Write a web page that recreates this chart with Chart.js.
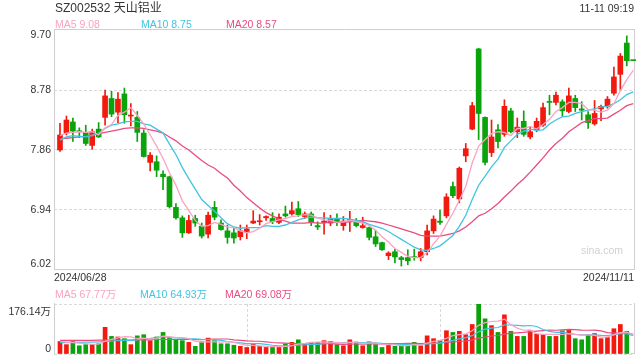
<!DOCTYPE html>
<html lang="zh-CN">
<head>
  <meta charset="UTF-8" />
  <title>SZ002532 天山铝业 日K</title>
  <script src="https://cdn.jsdelivr.net/npm/chart.js"></script>
  <style>
    body {
      margin: 0;
      background: #fff;
      font-family: "Liberation Sans", Arial, "Noto Sans CJK SC", sans-serif;
    }
    .wrap { position: relative; width: 640px; height: 360px; overflow: hidden; }
    canvas { position: absolute; left: 0; }
    #kline { top: 0; }
    #vol { top: 280px; }
    .txt { position: absolute; font-size: 10.5px; line-height: 12px; white-space: nowrap; color: #333; }
    .title { left: 55px; top: 1px; font-size: 12px; line-height: 14px; }
    .time { right: 6px; top: 2px; }
    .ma5 { color: #f9a3c3; }
    .ma10 { color: #40c4e2; }
    .ma20 { color: #e94c80; }
    .mark { right: 17px; top: 244px; color: #d0d0d0; }
  </style>
</head>
<body>
<div class="wrap">
  <canvas id="kline" width="640" height="290"></canvas>
  <canvas id="vol" width="640" height="80"></canvas>

  <div class="txt title">SZ002532 天山铝业</div>
  <div class="txt time">11-11 09:19</div>
  <div class="txt ma5" style="left:55px;top:18px">MA5 9.08</div>
  <div class="txt ma10" style="left:141px;top:18px">MA10 8.75</div>
  <div class="txt ma20" style="left:226px;top:18px">MA20 8.57</div>
  <div class="txt ma5" style="left:55px;top:288px">MA5 67.77万</div>
  <div class="txt ma10" style="left:140px;top:288px">MA10 64.93万</div>
  <div class="txt ma20" style="left:225px;top:288px">MA20 69.08万</div>
  <div class="txt mark">sina.com</div>
</div>

<script>
  // trading days 2024/06/28 - 2024/11/11
  const dates = [
    '06/28',
    '07/01','07/02','07/03','07/04','07/05','07/08','07/09','07/10','07/11','07/12',
    '07/15','07/16','07/17','07/18','07/19','07/22','07/23','07/24','07/25','07/26',
    '07/29','07/30','07/31',
    '08/01','08/02','08/05','08/06','08/07','08/08','08/09','08/12','08/13','08/14',
    '08/15','08/16','08/19','08/20','08/21','08/22','08/23','08/26','08/27','08/28',
    '08/29','08/30',
    '09/02','09/03','09/04','09/05','09/06','09/09','09/10','09/11','09/12','09/13',
    '09/18','09/19','09/20','09/23','09/24','09/25','09/26','09/27','09/30',
    '10/08','10/09','10/10','10/11','10/14','10/15','10/16','10/17','10/18','10/21',
    '10/22','10/23','10/24','10/25','10/28','10/29','10/30','10/31',
    '11/01','11/04','11/05','11/06','11/07','11/08','11/11'
  ];
  const year = '2024';

  const open = [
    7.86,8.12,8.29,8.15,8.13,7.93,8.18,8.36,8.65,8.44,
    8.72,8.38,8.36,8.12,7.67,7.68,7.49,7.45,6.98,6.82,
    6.59,6.81,6.69,6.57,6.98,6.74,6.62,6.59,6.53,6.61,
    6.74,6.76,6.82,6.81,6.75,6.88,6.88,6.96,6.84,6.88,
    6.70,6.75,6.74,6.80,6.70,6.78,6.76,6.67,6.67,6.53,
    6.44,6.24,6.30,6.21,6.21,6.22,6.21,6.30,6.62,6.77,
    6.85,7.30,7.11,7.77,8.18,9.41,8.36,7.82,8.17,8.10,
    8.46,8.14,8.30,8.06,8.17,8.24,8.60,8.59,8.60,8.45,
    8.65,8.49,8.40,8.26,8.49,8.53,8.73,9.02,9.50,9.23
  ];
  const high = [
    8.27,8.38,8.35,8.20,8.24,8.18,8.28,8.78,8.76,8.74,
    8.81,8.57,8.45,8.17,7.82,7.77,7.54,7.46,7.04,6.85,
    6.86,6.86,6.74,6.91,7.07,6.79,6.71,6.66,6.71,6.71,
    6.93,6.87,6.85,6.90,6.88,7.00,7.06,7.07,6.91,6.91,
    6.76,6.90,6.86,6.88,6.84,6.92,6.81,6.83,6.68,6.63,
    6.45,6.30,6.34,6.23,6.33,6.34,6.35,6.71,6.85,6.94,
    7.19,7.37,7.60,7.96,8.59,9.42,8.37,8.32,8.25,8.63,
    8.50,8.35,8.46,8.22,8.35,8.58,8.70,8.75,8.63,8.81,
    8.70,8.60,8.45,8.62,8.55,8.68,9.13,9.34,9.61,9.23
  ];
  const low = [
    7.84,8.09,7.99,8.05,7.93,7.87,8.05,8.24,8.37,8.28,
    8.27,8.23,7.99,7.75,7.54,7.45,7.25,6.97,6.80,6.52,
    6.58,6.69,6.51,6.51,6.79,6.63,6.43,6.43,6.48,6.50,
    6.73,6.71,6.78,6.73,6.73,6.83,6.86,6.84,6.81,6.70,
    6.64,6.57,6.70,6.70,6.63,6.61,6.68,6.66,6.48,6.38,
    6.32,6.18,6.13,6.08,6.10,6.17,6.16,6.25,6.58,6.72,
    6.82,7.13,7.05,7.68,8.17,8.02,7.63,7.76,7.89,8.07,
    8.12,8.05,8.07,8.03,8.14,8.22,8.40,8.55,8.38,8.43,
    8.45,8.32,8.19,8.24,8.31,8.50,8.70,8.78,9.15,9.23
  ];
  const close = [
    8.09,8.32,8.15,8.14,7.96,8.14,8.06,8.69,8.41,8.64,
    8.40,8.39,8.13,7.76,7.78,7.55,7.45,6.99,6.82,6.59,
    6.78,6.74,6.54,6.86,6.83,6.64,6.52,6.51,6.62,6.65,
    6.77,6.77,6.84,6.76,6.83,6.85,6.93,6.87,6.88,6.75,
    6.68,6.77,6.80,6.76,6.77,6.79,6.70,6.70,6.52,6.42,
    6.33,6.28,6.22,6.18,6.16,6.21,6.30,6.62,6.80,6.75,
    7.14,7.16,7.58,7.88,8.54,8.42,7.67,8.06,7.99,8.53,
    8.14,8.21,8.10,8.14,8.30,8.51,8.59,8.70,8.46,8.69,
    8.51,8.47,8.28,8.42,8.53,8.64,8.98,9.30,9.23,9.23
  ];

  const ma5 = [
    8.08,8.12,8.13,8.14,8.13,8.14,8.09,8.20,8.25,8.39,
    8.44,8.51,8.39,8.26,8.09,7.92,7.73,7.51,7.32,7.08,
    6.93,6.78,6.69,6.70,6.75,6.72,6.68,6.67,6.62,6.59,
    6.61,6.66,6.73,6.76,6.79,6.81,6.84,6.85,6.87,6.86,
    6.82,6.79,6.78,6.75,6.76,6.78,6.76,6.74,6.70,6.63,
    6.53,6.45,6.35,6.29,6.23,6.21,6.21,6.29,6.42,6.54,
    6.72,6.89,7.09,7.30,7.66,7.92,8.02,8.11,8.14,8.13,
    8.08,8.19,8.19,8.22,8.18,8.25,8.33,8.45,8.51,8.59,
    8.59,8.57,8.48,8.47,8.44,8.47,8.57,8.77,8.94,9.08
  ];
  const ma10 = [
    8.01,8.06,8.08,8.07,8.06,8.08,8.12,8.19,8.24,8.26,
    8.29,8.30,8.30,8.26,8.24,8.18,8.12,7.95,7.79,7.59,
    7.42,7.26,7.10,7.01,6.92,6.82,6.73,6.68,6.66,6.67,
    6.67,6.67,6.70,6.69,6.69,6.71,6.75,6.79,6.82,6.83,
    6.82,6.82,6.81,6.81,6.81,6.80,6.78,6.76,6.72,6.69,
    6.66,6.61,6.55,6.49,6.43,6.37,6.33,6.32,6.35,6.39,
    6.47,6.55,6.69,6.86,7.10,7.32,7.46,7.60,7.72,7.90,
    8.00,8.10,8.15,8.18,8.16,8.17,8.26,8.32,8.37,8.38,
    8.42,8.45,8.47,8.49,8.52,8.53,8.57,8.63,8.71,8.75
  ];
  const ma20 = [
    8.03,8.04,8.05,8.06,8.07,8.09,8.11,8.13,8.15,8.17,
    8.19,8.20,8.20,8.19,8.17,8.15,8.12,8.06,8.00,7.92,
    7.86,7.78,7.70,7.63,7.58,7.50,7.43,7.32,7.23,7.13,
    7.05,6.97,6.90,6.85,6.80,6.77,6.74,6.74,6.74,6.75,
    6.74,6.74,6.76,6.75,6.75,6.76,6.77,6.78,6.77,6.76,
    6.74,6.71,6.68,6.65,6.62,6.59,6.55,6.54,6.54,6.54,
    6.56,6.58,6.62,6.68,6.76,6.85,6.89,6.96,7.04,7.14,
    7.23,7.33,7.42,7.52,7.63,7.74,7.86,7.96,8.04,8.14,
    8.21,8.28,8.31,8.34,8.34,8.35,8.41,8.47,8.54,8.57
  ];

  // volume, 万手
  const vol = [
    44,33,44,29,33,33,36,94,62,60,
    54,33,64,68,47,60,76,56,50,47,
    41,27,43,56,47,36,36,31,27,23,
    36,27,23,23,23,36,41,50,36,41,
    41,47,44,33,29,50,42,29,43,33,
    23,36,27,27,33,41,29,64,54,48,
    82,76,80,68,104,176.14,124,100,76,138,
    80,62,62,82,70,68,62,62,82,85,
    54,50,68,72,54,58,89,104,80,0
  ];
  const volMa5 = [
    45,42,40,38,36.6,34.4,35,45,51.6,57,
    61.2,60.6,54.6,55.8,53.2,54.4,63,61.4,57.8,57.8,
    54,44.2,41.6,42.8,42.8,41.8,43.6,41.2,35.4,30.6,
    30.6,28.8,27.2,26.4,26.4,26.4,29.2,34.6,37.2,40.8,
    41.8,43,41.8,41.2,38.8,40.6,39.6,36.6,38.6,39.4,
    34,32.8,32.4,29.2,29.2,32.8,31.4,38.8,44.2,47.2,
    55.4,64.8,68,70.8,82,100.8,110.4,114.4,116,122.8,
    103.6,91.2,83.6,84.8,71.2,68.8,68.8,68.8,68.8,71.8,
    69,66.6,67.8,65.8,59.6,60.4,68.2,75.4,77,67.77
  ];
  const volMa10 = [
    40,40,41,41,42,42,43,44,45,46.8,
    47.8,47.8,49.8,53.7,55.1,57.8,61.8,58,56.8,55.5,
    54.2,53.6,51.5,50.3,50.3,47.9,43.9,41.4,39.1,36.7,
    36.2,36.2,34.2,30.9,28.5,28.5,29,30.9,31.8,33.6,
    34.1,36.1,38.2,39.2,39.8,41.2,41.3,39.2,39.9,39.1,
    37.3,36.2,34.5,33.9,34.3,33.4,32.1,35.6,36.7,38.2,
    44.1,48.1,53.4,57.5,64.6,78.1,87.6,91.2,93.4,102.4,
    102.2,100.8,99,100.4,97,86.2,80,76.2,76.8,71.5,
    68.9,67.7,68.3,67.3,65.7,64.7,67.4,71.6,71.4,64.93
  ];
  const volMa20 = [
    48,48,48,48,48,48,49,49,49,49,
    49,49,50,50,50,51,51,51,51,51.2,
    51,50.7,50.7,52,52.7,52.9,52.9,49.7,48,46.1,
    45.2,44.9,42.9,40.6,39.4,38.2,36.5,36.2,35.5,35.2,
    35.2,36.2,36.2,35.1,34.2,34.9,35.2,35.1,35.9,36.4,
    35.7,36.2,36.4,36.6,37.1,37.3,36.7,37.4,38.3,38.7,
    40.7,42.2,44,45.7,49.5,55.8,59.9,63.4,65.1,70.3,
    73.2,74.5,76.2,79,80.8,82.2,83.8,83.7,85.1,87,
    85.6,84.3,83.7,83.9,81.4,75.5,73.7,73.9,74.1,69.08
  ];

  const priceTicks = [6.02, 6.94, 7.86, 8.78, 9.70];
  const priceTickLabels = ['6.02', '6.94', '7.86', '8.78', '9.70'];
  const volTicks = [0, 176.14];
  const volTickLabels = ['0', '176.14万'];

  const RED = '#f2190f';
  const GREEN = '#0aa30b';
  const C_MA5 = '#f9a3c3', C_MA10 = '#40c4e2', C_MA20 = '#e94c80';
  const GRID = '#d9d9d9';
  const FRAME = '#cfcfcf';
  const FONT = '"Liberation Sans", Arial, "Noto Sans CJK SC", sans-serif';
  const X_MIN = -0.93, X_MAX = 89.12;

  const idx = close.map((_, i) => i);
  const candleColor = idx.map(i => close[i] > open[i] ? RED : GREEN);
  const pts = arr => idx.map(i => ({ x: i, y: arr[i] }));

  // solid box lines around the plot area
  const frame = {
    id: 'frame',
    beforeDatasetsDraw(chart, args, opts) {
      const a = chart.chartArea, ctx = chart.ctx;
      ctx.save();
      ctx.strokeStyle = FRAME;
      ctx.lineWidth = 1;
      ctx.beginPath();
      if (opts.sides.includes('top')) { ctx.moveTo(a.left, a.top - 0.5); ctx.lineTo(a.right + 1, a.top - 0.5); }
      if (opts.sides.includes('bottom')) { ctx.moveTo(a.left, a.bottom - 0.5); ctx.lineTo(a.right + 1, a.bottom - 0.5); }
      if (opts.sides.includes('left')) { ctx.moveTo(a.left + 0.5, a.top - 1); ctx.lineTo(a.left + 0.5, a.bottom); }
      if (opts.sides.includes('right')) { ctx.moveTo(a.right + 0.5, a.top - 1); ctx.lineTo(a.right + 0.5, a.bottom); }
      ctx.stroke();
      ctx.restore();
    }
  };

  // y labels kept inside the plot box, like the original
  const axisLabels = {
    id: 'axisLabels',
    afterDraw(chart, args, opts) {
      const s = chart.scales.y, a = chart.chartArea, ctx = chart.ctx;
      ctx.save();
      ctx.font = '10.5px ' + FONT;
      ctx.fillStyle = '#333';
      ctx.textAlign = 'right';
      ctx.textBaseline = 'middle';
      s.ticks.forEach((t, i) => {
        let y = s.getPixelForValue(t.value);
        y = Math.min(Math.max(y, a.top + opts.inset[0]), a.bottom - opts.inset[1]);
        ctx.fillText(opts.labels[i], 51, y);
      });
      ctx.restore();
    }
  };

  Chart.register(frame, axisLabels);

  const maLine = (label, arr, color, width) => ({
    type: 'line', label, data: pts(arr), borderColor: color,
    borderWidth: width, pointRadius: 0, tension: 0, order: 0
  });

  new Chart(document.getElementById('kline'), {
    data: {
      datasets: [
        maLine('MA5', ma5, C_MA5, 1.3),
        maLine('MA10', ma10, C_MA10, 1.3),
        maLine('MA20', ma20, C_MA20, 1.3),
        {
          type: 'bar', label: 'body',
          data: idx.map(i => ({ x: i, y: [open[i], close[i]] })),
          backgroundColor: candleColor, barThickness: 5, minBarLength: 1,
          grouped: false, order: 2, clip: 4
        },
        {
          type: 'bar', label: 'wick',
          data: idx.map(i => ({ x: i, y: [low[i], high[i]] })),
          backgroundColor: candleColor, barThickness: 1,
          grouped: false, order: 3
        }
      ]
    },
    options: {
      responsive: false,
      animation: false,
      devicePixelRatio: 1,
      events: [],
      layout: { padding: { top: 30, right: 6, bottom: 0, left: 0 } },
      plugins: {
        legend: { display: false },
        tooltip: { enabled: false },
        frame: { sides: ['top', 'bottom', 'left', 'right'] },
        axisLabels: { labels: priceTickLabels, inset: [4.7, 6] }
      },
      scales: {
        x: {
          type: 'linear', min: X_MIN, max: X_MAX, offset: false,
          grid: { display: false, drawTicks: false },
          border: { display: false },
          afterBuildTicks: s => { s.ticks = [{ value: s.min }, { value: s.max }]; },
          afterFit: s => { s.height = 20; },
          ticks: {
            align: 'inner', autoSkip: false, maxRotation: 0, minRotation: 0,
            padding: 2, color: '#333', font: { family: FONT, size: 10.5 },
            callback: (v, i) => year + '/' + (i === 0 ? dates[0] : dates[dates.length - 1])
          }
        },
        y: {
          min: priceTicks[0], max: priceTicks[priceTicks.length - 1],
          afterBuildTicks: s => { s.ticks = priceTicks.map(v => ({ value: v })); },
          afterFit: s => { s.width = 54; },
          ticks: { display: false },
          grid: {
            drawTicks: false, lineWidth: 1,
            color: c => (c.index === 0 || c.index === priceTicks.length - 1) ? 'rgba(0,0,0,0)' : GRID
          },
          border: { display: false, dash: [3, 2] }
        }
      }
    }
  });

  new Chart(document.getElementById('vol'), {
    data: {
      datasets: [
        maLine('MA5', volMa5, C_MA5, 1.2),
        maLine('MA10', volMa10, C_MA10, 1.2),
        maLine('MA20', volMa20, C_MA20, 1.2),
        {
          type: 'bar', label: 'vol', data: pts(vol),
          backgroundColor: candleColor, barThickness: 4, order: 2
        }
      ]
    },
    options: {
      responsive: false,
      animation: false,
      devicePixelRatio: 1,
      events: [],
      layout: { padding: { top: 24, right: 6, bottom: 6, left: 0 } },
      plugins: {
        legend: { display: false },
        tooltip: { enabled: false },
        frame: { sides: ['left', 'right'] },
        axisLabels: { labels: volTickLabels, inset: [7.7, 5.3] }
      },
      scales: {
        x: {
          type: 'linear', min: X_MIN, max: X_MAX, offset: false,
          afterBuildTicks: s => {
            const step = (s.max - s.min) / 3;
            s.ticks = [{ value: s.min + step }, { value: s.min + 2 * step }];
          },
          afterFit: s => { s.height = 0; },
          ticks: { display: false },
          grid: { drawTicks: false, color: GRID, lineWidth: 1, offset: false },
          border: { display: false, dash: [3, 2] }
        },
        y: {
          min: volTicks[0], max: volTicks[1],
          afterBuildTicks: s => { s.ticks = volTicks.map(v => ({ value: v })); },
          afterFit: s => { s.width = 54; },
          ticks: { display: false },
          grid: { drawTicks: false, color: GRID, lineWidth: 1 },
          border: { display: false, dash: [3, 2] }
        }
      }
    }
  });
</script>
</body>
</html>
